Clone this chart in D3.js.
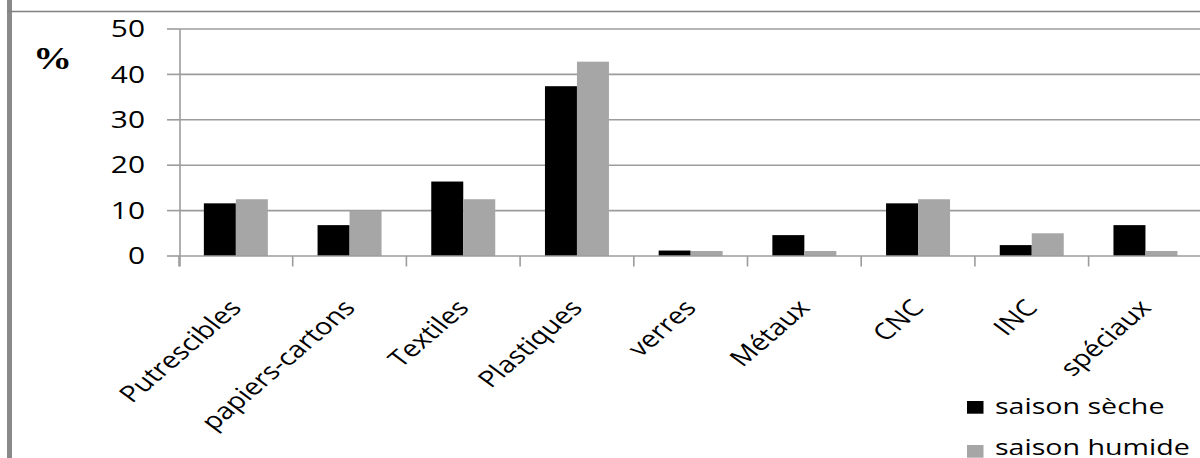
<!DOCTYPE html>
<html>
<head>
<meta charset="utf-8">
<script src="https://cdn.jsdelivr.net/npm/d3@7/dist/d3.min.js"></script>
<style>
  html, body { margin: 0; padding: 0; background: #fff; }
  svg { display: block; }
  text { font-family: "Open Sans", sans-serif; fill: #000; }
</style>
</head>
<body>
<svg id="chart" width="1200" height="458"></svg>
<script>
// Composition of waste by category (%), dry vs wet season
const categories = ["Putrescibles", "papiers-cartons", "Textiles", "Plastiques", "verres", "Métaux", "CNC", "INC", "spéciaux"];
const seriesNames = ["saison sèche", "saison humide"];
const drySeason = [11.6, 6.8, 16.4, 37.4, 1.2, 4.6, 11.6, 2.4, 6.8];
const wetSeason = [12.5, 9.9, 12.5, 42.8, 1.1, 1.1, 12.5, 5.0, 1.1];
const yTicks = [0, 10, 20, 30, 40, 50];
const seriesColors = ["#000000", "#a6a6a6"];

const svg = d3.select("#chart");
const SX = 1.3; // horizontal stretch applied to horizontal text

// frame
svg.append("rect").attr("x", 7).attr("y", 0).attr("width", 5).attr("height", 458).attr("fill", "#8a8a8a");
svg.append("line").attr("x1", 7).attr("x2", 1200).attr("y1", 11.5).attr("y2", 11.5)
  .attr("stroke", "#808080").attr("stroke-width", 1.3);

const x0 = d3.scaleBand().domain(categories).range([179, 1202.3]).paddingInner(0).paddingOuter(0);
const x1 = d3.scaleBand().domain(seriesNames).range([0, x0.bandwidth()]).paddingInner(0).paddingOuter(0.777);
const y = d3.scaleLinear().domain([0, 50]).range([256, 29]);

// gridlines
svg.append("g").selectAll("line").data(yTicks.filter(d => d > 0)).join("line")
  .attr("x1", 180).attr("x2", 1200)
  .attr("y1", d => y(d)).attr("y2", d => y(d))
  .attr("stroke", "#9c9c9c").attr("stroke-width", 1.6);

// bars
const rows = categories.map((c, i) => ({ c, vals: [drySeason[i], wetSeason[i]] }));
const groups = svg.append("g").selectAll("g").data(rows).join("g")
  .attr("transform", d => `translate(${x0(d.c)},0)`);
groups.selectAll("rect").data(d => d.vals.map((v, k) => ({ s: seriesNames[k], v, k }))).join("rect")
  .attr("x", d => x1(d.s)).attr("width", x1.bandwidth())
  .attr("y", d => y(d.v)).attr("height", d => y(0) - y(d.v))
  .attr("fill", d => seriesColors[d.k]);

// y axis
const yAxis = svg.append("g");
yAxis.append("line").attr("x1", 180).attr("x2", 180).attr("y1", y(50)).attr("y2", y(0) + 10.5)
  .attr("stroke", "#9c9c9c").attr("stroke-width", 1.6);
yAxis.selectAll("line.tick").data(yTicks).join("line").attr("class", "tick")
  .attr("x1", 167).attr("x2", 180).attr("y1", d => y(d)).attr("y2", d => y(d))
  .attr("stroke", "#9c9c9c").attr("stroke-width", 1.6);
yAxis.selectAll("text").data(yTicks).join("text")
  .attr("transform", d => `translate(145,${y(d)}) scale(${SX},1)`)
  .attr("text-anchor", "end").attr("dy", "0.36em")
  .style("font-size", "23px").attr("fill", "#222")
  .text(d => d);

// x axis
const xAxis = svg.append("g");
xAxis.append("line").attr("x1", 180).attr("x2", 1200).attr("y1", y(0)).attr("y2", y(0))
  .attr("stroke", "#9c9c9c").attr("stroke-width", 1.6);
const boundaries = categories.map(c => x0(c));
xAxis.selectAll("line.tick").data(boundaries).join("line").attr("class", "tick")
  .attr("x1", d => d).attr("x2", d => d).attr("y1", y(0)).attr("y2", y(0) + 10.5)
  .attr("stroke", "#9c9c9c").attr("stroke-width", 1.6);
xAxis.selectAll("text").data(categories).join("text")
  .attr("transform", d => `translate(${x0(d) + x0.bandwidth() / 2 + 7},309) scale(1.25,1) rotate(-47)`)
  .attr("text-anchor", "end")
  .style("font-size", "23px").attr("fill", "#111")
  .text(d => d);

// unit label
svg.append("text")
  .attr("transform", `translate(33,69) scale(1.22,1)`)
  .style("font-family", "'Liberation Serif', serif").style("font-weight", "bold").style("font-size", "32px")
  .text("%");

// legend
const legend = svg.append("g").selectAll("g").data(seriesNames).join("g")
  .attr("transform", (d, i) => `translate(967,${401 + i * 44})`);
legend.append("rect").attr("width", 16.5).attr("height", 12.7).attr("fill", (d, i) => seriesColors[i]);
legend.append("text")
  .attr("transform", (d, i) => `translate(28,${13.3 - i * 3}) scale(${SX},1)`)
  .style("font-size", "22px").attr("fill", "#222")
  .text(d => d);
</script>
</body>
</html>
